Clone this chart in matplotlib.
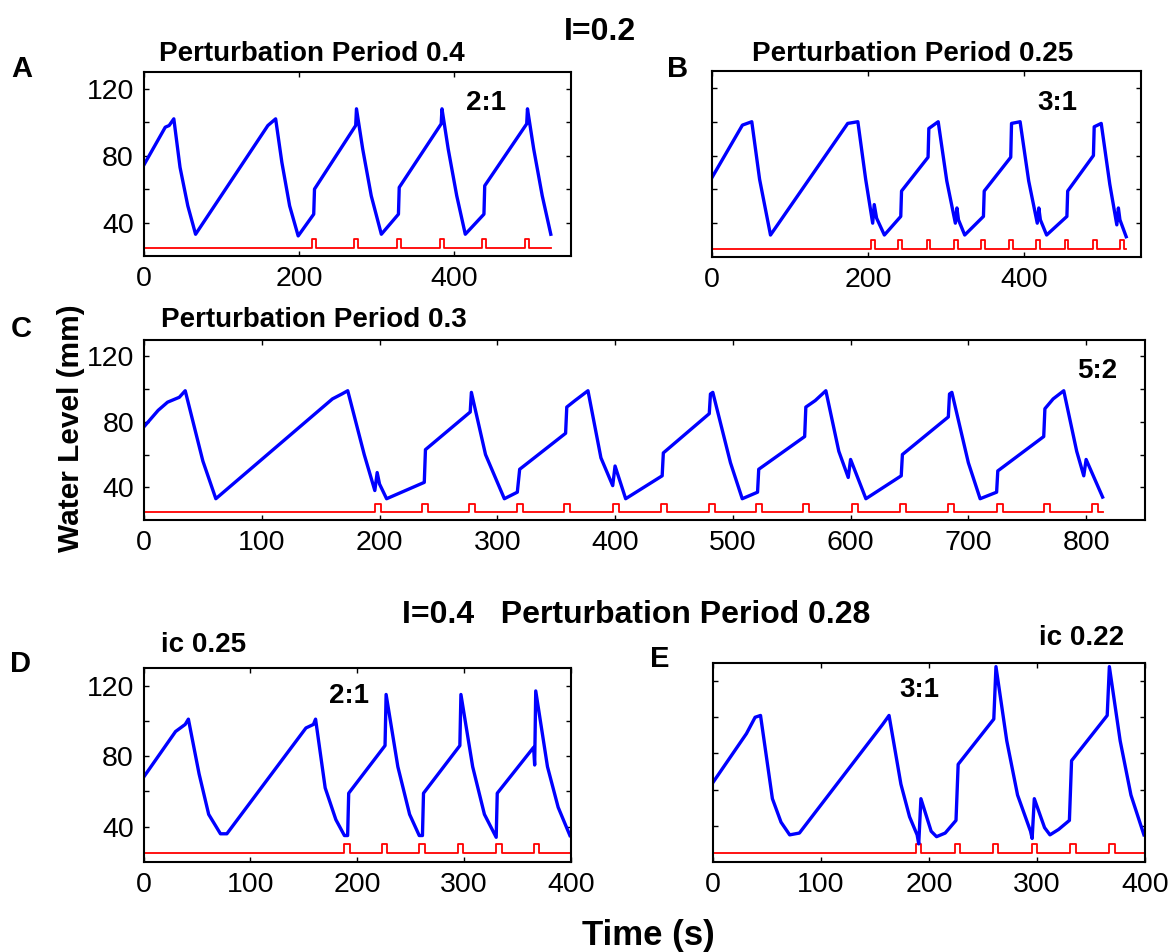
import matplotlib
matplotlib.use("Agg")
import matplotlib.pyplot as plt

plt.rcParams['font.family'] = ['Liberation Sans', 'DejaVu Sans']

# ---- data (time in s, water level in mm) ----
# panel A : I=0.2, perturbation period 0.4
a_t = [0, 28, 33, 39, 47, 57, 67, 160, 170, 178, 188, 199, 219, 220, 273, 274, 282, 293,
       306, 328, 329, 383, 384, 392, 403, 414, 438, 439, 493, 494, 502, 513, 524]
a_lev = [74, 97, 98, 102, 73, 50, 33, 98, 102, 76, 50, 32, 45, 60, 98, 108, 84, 56,
         33, 45, 61, 99, 108, 84, 56, 33, 45, 62, 99, 108, 84, 56, 33]
a_pulse = [217, 271, 326, 381, 436, 491]
a_end = 524

# panel B : I=0.2, perturbation period 0.25
b_t = [0, 39, 51, 61, 75, 174, 187, 197, 206, 208, 211, 221, 242, 243, 277, 278, 290,
       301, 312, 314, 316, 324, 348, 349, 383, 384, 395, 406, 417, 419, 421, 429, 455,
       456, 489, 490, 499, 510, 519, 521, 523, 531]
b_lev = [67, 98, 100, 66, 33, 99, 100, 66, 40, 51, 43, 33, 44, 59, 79, 96, 100,
         65, 40, 49, 42, 33, 44, 59, 79, 99, 100, 65, 40, 49, 42, 33, 44,
         59, 80, 97, 99, 63, 39, 49, 42, 32]
b_pulse = [204, 239, 275, 310, 345, 381, 416, 452, 488, 523]
b_end = 531

# panel C : I=0.2, perturbation period 0.3
c_t = [0, 12, 20, 30, 35, 50, 61, 160, 168, 173, 187, 196, 198, 200, 206, 238, 239,
       277, 278, 290, 306, 317, 319, 358, 359, 366, 377, 388, 398, 400, 409, 440, 441,
       480, 481, 483, 498, 508, 521, 522, 561, 562, 570, 579, 590, 598, 600, 613, 643,
       644, 683, 684, 686, 700, 710, 724, 725, 764, 765, 772, 781, 792, 798, 800, 814]
c_lev = [77, 87, 92, 95, 99, 56, 33, 94, 97, 99, 60, 38, 49, 42, 33, 43, 63,
         86, 98, 60, 33, 37, 51, 73, 89, 93, 99, 58, 41, 53, 33, 47, 61,
         85, 97, 98, 55, 33, 37, 51, 71, 89, 93, 99, 62, 46, 57, 33, 47,
         60, 83, 97, 98, 55, 33, 37, 50, 71, 88, 94, 99, 62, 47, 57, 34]
c_pulse = [196, 236, 276, 317, 357, 398, 439, 480, 520, 560, 601, 642, 683, 724, 764, 805]
c_end = 814

# panel D : I=0.4, period 0.28, ic 0.25
d_t = [0, 30, 39, 42, 52, 61, 72, 78, 152, 159, 161, 170, 180, 188, 191, 192, 226, 227,
       238, 249, 258, 261, 262, 296, 297, 308, 319, 330, 331, 365, 366, 367, 378, 388, 399]
d_lev = [68, 94, 98, 101, 70, 47, 36, 36, 96, 98, 101, 62, 44, 35, 35, 59, 86, 115,
         74, 47, 35, 35, 59, 86, 115, 74, 47, 34, 59, 85, 75, 117, 74, 51, 35]
d_pulse = [188, 223, 258, 294, 330, 365]
d_end = 400

# panel E : I=0.4, period 0.28, ic 0.22
e_t = [0, 31, 39, 44, 55, 63, 71, 80, 157, 163, 174, 182, 189, 190.5, 192.5, 202, 207,
       215, 225, 227, 260, 262, 272, 282, 294, 295.5, 297.5, 307, 312, 320, 330, 332,
       365, 367, 377, 387, 399]
e_lev = [64, 91, 100, 101, 55, 42, 35, 36, 96, 101, 63, 45, 35, 30, 55, 37, 34,
         36, 43, 74, 99, 128, 87, 57, 37, 33, 55, 39, 35, 38, 43, 76,
         101, 128, 87, 57, 35]
e_pulse = [188, 224, 259, 295, 331, 367]
e_end = 400

W, H = 1172, 952
fig = plt.figure(figsize=(W / 100, H / 100), dpi=100)


def pix_axes(left, top, right, bottom):
    return fig.add_axes([left / W, 1 - bottom / H, (right - left) / W, (bottom - top) / H])


def pulse_trace(onsets, end, width=5, low=25, high=30):
    xs, ys = [0], [low]
    for p in onsets:
        xs += [p, p, p + width, p + width]
        ys += [low, high, high, low]
    xs.append(end)
    ys.append(low)
    return xs, ys


def panel(ax, t, lev, pulses, end, xmax, xticks, ylab=True):
    px, py = pulse_trace(pulses, end)
    ax.plot(px, py, color='#ff0000', lw=1.3)
    ax.plot(t, lev, color='#0000ff', lw=2.4)
    ax.set_xlim(0, xmax)
    ax.set_ylim(20, 130)
    ax.set_xticks(xticks)
    ax.set_yticks([40, 60, 80, 100, 120])
    ax.set_yticklabels(['40', '', '80', '', '120'] if ylab else [])
    ax.tick_params(direction='in', length=3.5, width=1, top=True, right=True,
                   labelsize=20.5, pad=7)
    for s in ax.spines.values():
        s.set_linewidth(1.5)


axA = pix_axes(143.5, 72, 571, 256)
panel(axA, a_t, a_lev, a_pulse, a_end, 550, [0, 200, 400])
axB = pix_axes(712, 71, 1141, 257)
panel(axB, b_t, b_lev, b_pulse, b_end, 550, [0, 200, 400], ylab=False)
axC = pix_axes(144, 340, 1145, 520)
panel(axC, c_t, c_lev, c_pulse, c_end, 850, list(range(0, 900, 100)))
axD = pix_axes(143.5, 668, 571, 862)
panel(axD, d_t, d_lev, d_pulse, d_end, 400, [0, 100, 200, 300, 400])
axE = pix_axes(713, 663, 1145, 862)
panel(axE, e_t, e_lev, e_pulse, e_end, 400, [0, 100, 200, 300, 400], ylab=False)

# ratio annotations
axA.text(415, 107, '2:1', fontsize=20, fontweight='bold')
axB.text(417, 107, '3:1', fontsize=20, fontweight='bold')
axC.text(792, 107, '5:2', fontsize=20, fontweight='bold')
axD.text(174, 110, '2:1', fontsize=20, fontweight='bold')
axE.text(173, 111, '3:1', fontsize=20, fontweight='bold')


def ftext(x, y, s, size, **kw):
    fig.text(x / W, 1 - y / H, s, fontsize=size, fontweight='bold', va='baseline', **kw)


ftext(564, 40, 'I=0.2', 23)
ftext(402, 623, 'I=0.4   Perturbation Period 0.28', 23)
ftext(159, 61, 'Perturbation Period 0.4', 20)
ftext(752, 61, 'Perturbation Period 0.25', 20)
ftext(161, 327, 'Perturbation Period 0.3', 20)
ftext(161, 652, 'ic 0.25', 20)
ftext(1039, 645, 'ic 0.22', 20)
ftext(11, 77, 'A', 21)
ftext(667, 77, 'B', 21)
ftext(11, 337, 'C', 21)
ftext(10, 672, 'D', 21)
ftext(650, 667, 'E', 21)
ftext(648, 945, 'Time (s)', 25, ha='center')
fig.text(71 / W, 1 - 428 / H, 'Water Level (mm)', fontsize=21.5, fontweight='bold',
         rotation=90, ha='center', va='center')

fig.savefig('out.png', dpi=100)
